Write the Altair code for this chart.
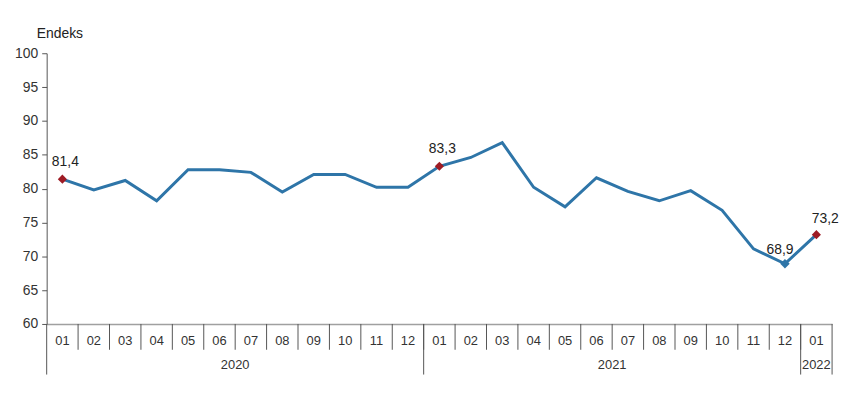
import altair as alt
import pandas as pd

months = ["01","02","03","04","05","06","07","08","09","10","11","12",
          "01","02","03","04","05","06","07","08","09","10","11","12","01"]
years = ["2020"]*12 + ["2021"]*12 + ["2022"]
values = [81.4, 79.8, 81.2, 78.2, 82.8, 82.8, 82.4, 79.5, 82.1, 82.1, 80.2, 80.2,
          83.3, 84.6, 86.8, 80.2, 77.3, 81.6, 79.6, 78.2, 79.7, 76.8, 71.1, 68.9, 73.2]
labels = ["81,4"] + [""]*11 + ["83,3"] + [""]*10 + ["68,9", "73,2"]
red_marker = [True] + [False]*11 + [True] + [False]*11 + [True]
year_names = ["2020", "2021", "2022"]
y_ticks = [60, 65, 70, 75, 80, 85, 90, 95, 100]

df = pd.DataFrame({"i": list(range(len(months))), "month": months, "year": years,
                   "value": values, "label": labels, "red": red_marker})
df["b"] = df["i"] - 0.5

yr = pd.DataFrame({"year": year_names})
yr["start"] = [df[df.year == y]["i"].min() - 0.5 for y in year_names]
yr["end"] = [df[df.year == y]["i"].max() + 0.5 for y in year_names]
yr["mid"] = (yr["start"] + yr["end"]) / 2

FONT = "Liberation Sans"
xs = alt.Scale(domain=[-0.5, 24.5], nice=False, zero=False)
ys = alt.Scale(domain=[60, 100], nice=False, zero=False)
AX = alt.Axis(labels=False, ticks=False, title=None, grid=False,
              domainColor="#a0a0a0", domainWidth=1.5)
AY = alt.Axis(values=y_ticks, title=None, grid=False,
              domainColor="#555555", tickColor="#555555", tickSize=5,
              labelFont=FONT, labelFontSize=14, labelColor="#333333",
              labelPadding=4, labelOverlap=False)
XN = lambda f: alt.X(f, scale=xs, axis=AX)
YN = lambda f: alt.Y(f, scale=ys, axis=AY)

base = alt.Chart(df)

line = base.mark_line(color="#2e75a8", strokeWidth=3).encode(x=XN("i:Q"), y=YN("value:Q"))

red_pts = base.transform_filter("datum.red").mark_point(
    shape="diamond", filled=True, color="#9e1b24", size=85, opacity=1).encode(
    x=XN("i:Q"), y=YN("value:Q"))

blue_pt = base.transform_filter("datum.label == '68,9'").mark_point(
    shape="diamond", filled=True, color="#2e75a8", size=90, opacity=1).encode(
    x=XN("i:Q"), y=YN("value:Q"))

def lab(filt, dx, dy):
    return base.transform_filter(filt).mark_text(
        font=FONT, fontSize=14, color="#222222", dx=dx, dy=dy).encode(
        x=XN("i:Q"), y=YN("value:Q"), text="label:N")

lab_main = lab("datum.label == '81,4' || datum.label == '83,3'", 3, -17)
lab_689 = lab("datum.label == '68,9'", -5, -14)
lab_732 = lab("datum.label == '73,2'", 9, -16)

month_text = base.mark_text(font=FONT, fontSize=13, color="#333333").encode(
    x=XN("i:Q"), y=alt.value(290), text="month:N")

month_sep = base.transform_filter("datum.i > 0").mark_rule(color="#555555", strokeWidth=1).encode(
    x=XN("b:Q"), y=alt.value(273), y2=alt.value(299))

ybase = alt.Chart(yr)
year_sep = ybase.mark_rule(color="#555555", strokeWidth=1).encode(
    x=XN("start:Q"), y=alt.value(273), y2=alt.value(324))
year_end = ybase.transform_filter("datum.year == '2022'").mark_rule(color="#555555", strokeWidth=1).encode(
    x=XN("end:Q"), y=alt.value(273), y2=alt.value(324))
year_text = ybase.mark_text(font=FONT, fontSize=13, color="#333333").encode(
    x=XN("mid:Q"), y=alt.value(314), text="year:N")

title_text = alt.Chart(pd.DataFrame({"t": ["Endeks"]})).mark_text(
    font=FONT, fontSize=14, color="#222222", align="left").encode(
    x=alt.value(-10), y=alt.value(-19), text="t:N")

chart = alt.layer(line, red_pts, blue_pt, lab_main, lab_689, lab_732, month_text, month_sep,
                  year_sep, year_end, year_text, title_text).properties(
    width=792, height=273,
    autosize=alt.AutoSizeParams(type="none"),
    padding={"left": 39, "top": 44, "right": 10, "bottom": 70},
    background="white",
).configure_view(stroke=None, clip=False)

chart.save("out.html", embed_options={"renderer": "svg", "actions": False})
